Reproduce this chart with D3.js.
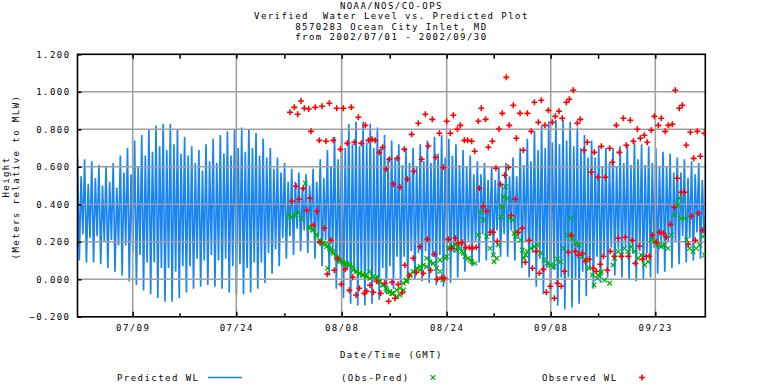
<!DOCTYPE html>
<html><head><meta charset="utf-8">
<script src="https://cdn.jsdelivr.net/npm/d3@7"></script>
<style>
body{margin:0;background:#fff;}
text{font-family:"DejaVu Sans Mono",monospace;font-size:9px;letter-spacing:1.45px;fill:#000;white-space:pre;}
</style></head><body>
<svg id="c" width="768" height="384"></svg>
<script>
// ---------- DATA ----------
const titleLines = ["NOAA/NOS/CO-OPS","Verified  Water Level vs. Predicted Plot","8570283 Ocean City Inlet, MD","from 2002/07/01 - 2002/09/30"];
const xTickDays = [8.0, 23.02, 38.29, 53.51, 68.59, 83.75];   // days since 2002-07-01 00:00 GMT
const xTickLabels = ["07/09","07/24","08/08","08/24","09/08","09/23"];
const xMinorDays = [14.80, 29.99, 45.25, 60.33, 75.46];
const yTicks = [-0.2, 0.0, 0.2, 0.4, 0.6, 0.8, 1.0, 1.2];
const predStepDays = 0.25875;   // one tidal extreme every 6.21 h
// predicted high waters (one per tidal cycle) and following low waters, metres
const predHigh = [0.65,0.55,0.64,0.51, 0.63,0.54,0.61,0.50, 0.60,0.52,0.62,0.49, 0.66,0.57,0.70,0.56,
 0.74,0.60,0.77,0.66, 0.80,0.68,0.82,0.71, 0.83,0.69,0.83,0.72, 0.80,0.67,0.76,0.66,
 0.71,0.62,0.69,0.58, 0.72,0.63,0.75,0.62, 0.77,0.67,0.79,0.66, 0.80,0.70,0.81,0.68,
 0.80,0.70,0.78,0.66, 0.75,0.65,0.70,0.59, 0.65,0.57,0.62,0.52, 0.59,0.52,0.57,0.49,
 0.56,0.50,0.59,0.52, 0.64,0.54,0.69,0.60, 0.76,0.64,0.80,0.70, 0.83,0.72,0.84,0.71,
 0.84,0.73,0.83,0.70, 0.81,0.70,0.77,0.65, 0.74,0.65,0.72,0.61, 0.70,0.62,0.70,0.60,
 0.72,0.63,0.74,0.62, 0.76,0.67,0.77,0.65, 0.75,0.66,0.72,0.61, 0.69,0.60,0.66,0.56,
 0.63,0.56,0.62,0.53, 0.60,0.53,0.60,0.51, 0.62,0.55,0.65,0.55, 0.70,0.61,0.75,0.63,
 0.79,0.69,0.82,0.70, 0.84,0.73,0.85,0.72, 0.85,0.74,0.84,0.71, 0.81,0.70,0.77,0.65,
 0.74,0.65,0.71,0.60, 0.70,0.62,0.70,0.60, 0.71,0.62,0.72,0.61, 0.73,0.64,0.72,0.61,
 0.71,0.62,0.70,0.60, 0.68,0.60,0.67,0.57, 0.65,0.57,0.64,0.54, 0.63,0.56,0.62,0.53];
const predLow = [0.10,0.24,0.09,0.22, 0.09,0.23,0.08,0.20, 0.06,0.21,0.04,0.18, 0.02,0.18,-0.01,0.14,
 -0.03,0.13,-0.06,0.09, -0.08,0.09,-0.10,0.06, -0.12,0.06,-0.12,0.04, -0.10,0.07,-0.07,0.07,
 -0.05,0.11,-0.04,0.10, -0.03,0.13,-0.04,0.10, -0.05,0.11,-0.07,0.07, -0.08,0.08,-0.08,0.06,
 -0.07,0.09,-0.05,0.09, -0.02,0.14,0.03,0.16, 0.07,0.22,0.11,0.23, 0.13,0.27,0.15,0.26,
 0.14,0.27,0.11,0.23, 0.07,0.21,0.02,0.15, -0.05,0.11,-0.10,0.05, -0.13,0.04,-0.14,0.01,
 -0.14,0.03,-0.13,0.02, -0.11,0.06,-0.08,0.07, -0.05,0.12,-0.03,0.12, -0.01,0.15,0.00,0.14,
 -0.01,0.15,-0.02,0.12, -0.03,0.13,-0.04,0.10, -0.02,0.14,0.01,0.15, 0.04,0.20,0.07,0.20,
 0.09,0.24,0.10,0.23, 0.12,0.26,0.12,0.24, 0.12,0.26,0.10,0.22, 0.06,0.20,0.01,0.14,
 -0.04,0.11,-0.08,0.06, -0.12,0.05,-0.14,0.01, -0.16,0.01,-0.15,0.00, -0.13,0.04,-0.09,0.06,
 -0.05,0.12,-0.02,0.13, 0.01,0.17,0.02,0.16, 0.01,0.17,0.00,0.14, -0.01,0.15,0.00,0.14,
 0.01,0.17,0.03,0.17, 0.04,0.20,0.06,0.20, 0.08,0.23,0.09,0.22, 0.10,0.25,0.11,0.24];
// observed water level samples [day, metres]
const observed = [
[30.80,0.891],[31.43,0.917],[31.91,0.880],[32.40,0.951],[32.88,0.912],[33.51,0.908],[34.47,0.917],[35.44,0.923],[36.50,0.939],[37.57,0.912],[38.53,0.912],[39.69,0.917],[40.71,0.864],[41.72,0.821],[33.85,0.789],[35.05,0.741],[36.02,0.736],[37.08,0.741],[38.10,0.693],[39.11,0.725],[40.13,0.731],[41.14,0.725],[42.16,0.741],[42.69,0.747],[43.17,0.741],[43.75,0.677],[44.23,0.704],[45.20,0.640],[44.72,0.587],[45.78,0.508],[31.67,0.496],[32.73,0.485],[31.09,0.416],[32.15,0.427],[33.70,0.432],[33.22,0.368],[34.71,0.363],[34.18,0.288],[35.78,0.272],[35.15,0.196],[36.74,0.208],[37.71,0.110],[36.21,0.027],[37.23,0.048],[38.82,0.053],[38.24,-0.027],[39.89,0.011],[39.40,-0.059],[40.85,-0.048],[40.37,-0.084],[41.58,-0.075],[41.91,-0.064],[42.40,-0.032],[42.88,-0.069],[43.36,-0.011],[43.94,-0.075],[44.52,-0.021],[45.10,-0.117],[45.59,-0.016],
[46.36,0.645],[46.75,0.491],[47.81,0.533],[48.78,0.576],[47.37,0.693],[49.89,0.640],[48.44,0.773],[49.40,0.832],[50.42,0.880],[51.43,0.853],[50.85,0.711],[51.92,0.651],[52.45,0.779],[53.03,0.597],[53.51,0.843],[54.48,0.875],[54.04,0.779],[55.06,0.800],[55.49,0.821],[56.07,0.741],[56.55,0.741],[57.13,0.736],[57.57,0.683],[58.10,0.843],[58.53,0.912],[59.16,0.853],[59.55,0.704],[60.13,0.736],[60.66,0.592],[58.24,0.485],[58.83,0.389],[59.26,0.363],[59.89,0.251],[60.27,0.251],[60.85,0.203],
[46.50,-0.027],[46.02,-0.101],[47.08,-0.071],[47.47,0.075],[48.10,0.020],[48.68,0.112],[49.11,0.037],[49.65,0.174],[50.13,0.032],[50.71,0.213],[51.19,0.048],[51.72,0.133],[52.16,0.000],[52.79,0.009],[53.19,0.005],[53.75,0.213],[54.24,0.165],[54.77,0.219],[55.20,0.192],[55.78,0.196],[56.27,0.169],[56.80,0.169],[57.24,0.165],[57.81,0.171],
[62.16,1.077],[61.58,0.885],[61.09,0.802],[62.59,0.821],[63.17,0.928],[64.14,0.885],[65.20,0.885],[63.61,0.752],[64.62,0.688],[65.78,0.789],[66.22,0.944],[66.80,0.837],[67.23,0.955],[67.76,0.821],[68.25,0.901],[68.83,0.837],[69.26,0.869],[69.79,0.896],[70.27,0.859],[70.86,0.944],[71.29,0.960],[71.87,1.008],[72.45,0.832],[72.88,0.853],[73.90,0.731],[73.42,0.688],[74.91,0.677],[75.93,0.709],[74.48,0.571],[75.45,0.544],
[62.45,0.597],[61.92,0.555],[61.29,0.507],[63.46,0.427],[62.88,0.340],[63.85,0.251],[64.48,0.272],[65.49,0.208],[66.51,0.149],[64.91,0.091],[65.93,0.059],[66.94,0.032],[67.53,0.053],[67.96,-0.069],[68.54,-0.037],[69.12,-0.101],[69.56,-0.021],[70.13,-0.037],[70.57,0.043],[71.15,0.144],[71.58,0.235],[72.16,0.149],[72.59,0.128],[73.17,0.139],[73.61,0.096],[74.19,0.107],[74.76,0.059],[75.20,0.043],[75.78,0.080],
[77.14,0.699],[77.52,0.624],[78.10,0.821],[78.54,0.677],[79.12,0.859],[79.55,0.715],[80.13,0.848],[80.57,0.736],[81.15,0.800],[81.58,0.752],[82.16,0.768],[82.59,0.731],[83.17,0.795],[83.61,0.869],[84.19,0.821],[84.62,0.859],[85.20,0.789],[85.64,0.821],[86.22,0.827],[86.65,1.008],[87.23,0.912],[87.67,0.928],[88.25,0.715],[88.83,0.784],[89.84,0.789],[90.86,0.779],[89.31,0.645],[90.28,0.656],
[76.51,0.544],[86.94,0.539],[87.52,0.464],[87.96,0.464],[86.51,0.384],[85.93,0.293],[88.98,0.336],[89.99,0.352],[90.57,0.261],
[76.22,0.123],[76.80,0.048],[77.23,0.149],[77.81,0.123],[78.39,0.219],[78.83,0.123],[79.41,0.224],[79.84,0.123],[80.42,0.208],[80.86,0.085],[81.44,0.176],[81.87,0.107],[82.45,0.123],[82.89,0.123],[83.32,0.235],[83.90,0.197],[84.34,0.251],[84.92,0.245],[85.35,0.224],[88.54,0.187],[89.56,0.208]];
// residual (observed - predicted) samples [day, metres]
const residual = [
[30.60,0.343],[30.95,0.331],[31.43,0.343],[31.91,0.357],[32.40,0.325],[33.03,0.512],[33.60,0.272],[34.09,0.263],[34.57,0.236],[35.05,0.210],[35.54,0.192],[36.02,0.188],[36.50,0.165],[36.98,0.148],[37.47,0.121],[37.95,0.103],[38.43,0.094],[38.92,0.082],[39.40,0.076],[39.88,0.068],[40.37,0.041],[40.85,0.032],[41.33,0.023],[41.81,0.023],[42.30,0.041],[42.78,0.014],[43.26,0.005],[43.75,-0.012],[44.23,-0.030],[44.71,-0.048],[45.20,-0.066],[45.58,-0.075],[36.26,0.059],
[33.70,0.281],[34.18,0.263],[34.67,0.236],[35.15,0.201],[35.63,0.192],[36.12,0.174],[36.60,0.156],[37.08,0.139],[37.57,0.112],[38.05,0.094],[38.53,0.085],[39.02,0.085],[39.50,0.076],[39.98,0.050],[40.47,0.041],[40.95,0.032],[41.43,0.023],[41.92,0.014],[42.40,0.005],[43.37,0.014],[43.85,-0.013],[44.33,-0.030],[44.82,-0.057],[45.30,-0.066],[45.78,-0.075],[46.27,-0.057],[46.75,-0.048],[47.22,-0.021],[47.71,-0.004],[48.20,0.023],[48.67,0.041],[49.64,0.050],[50.61,0.067],[51.57,0.085],[52.54,0.103],[53.51,0.121],[53.99,0.165],[54.96,0.156],[55.92,0.139],[56.89,0.103],
[45.54,-0.075],[46.26,-0.092],[46.75,-0.084],[47.23,-0.057],[47.71,-0.012],[48.20,0.023],[48.68,0.041],[49.16,0.059],[49.65,0.068],[50.13,0.076],[50.61,0.112],[51.09,0.094],[51.58,0.085],[52.06,0.059],[52.54,0.041],[52.93,-0.004],[53.27,0.112],[53.75,0.165],[54.24,0.174],[54.72,0.183],[55.20,0.174],[55.69,0.148],[56.17,0.121],[56.65,0.112],[57.13,0.094],[57.62,0.085],[58.10,0.236],[58.34,0.361],[58.82,0.316],[59.31,0.228],[59.79,0.165],[60.27,0.130],[60.76,0.112],
[60.37,0.094],[60.95,0.183],[61.34,0.334],[61.58,0.388],[62.06,0.494],[62.30,0.432],[61.50,0.387],[61.70,0.440],[62.69,0.325],[63.02,0.316],[63.27,0.245],[63.51,0.228],[63.75,0.254],[64.24,0.210],[64.48,0.156],[64.72,0.112],[64.96,0.130],[65.20,0.148],[65.69,0.165],[66.17,0.174],[66.65,0.183],[67.13,0.139],[67.62,0.103],[68.10,0.085],[68.58,0.076],[69.07,0.068],[69.55,0.108],[70.03,0.094],[70.52,0.165],[71.10,0.236],[71.48,0.325],[71.72,0.219],[72.21,0.192],[72.69,0.183],[73.17,0.121],[73.66,0.103],[74.14,0.059],[74.62,0.023],[74.87,-0.030],[75.35,0.005],[75.83,0.032],
[75.45,0.023],[75.93,0.041],[76.41,-0.004],[77.14,-0.021],[77.62,0.076],[77.87,0.112],[78.35,0.148],[78.83,0.130],[79.31,0.165],[79.80,0.148],[80.28,0.174],[80.76,0.148],[81.24,0.112],[81.73,0.130],[82.21,0.076],[82.69,0.094],[83.17,0.210],[83.66,0.201],[84.14,0.183],[84.62,0.174],[85.11,0.183],[85.59,0.165],[86.07,0.236],[86.56,0.343],[87.04,0.396],[87.28,0.432],[87.52,0.325],[88.01,0.325],[88.25,0.210],[88.73,0.165],[89.22,0.148],[89.70,0.165],[90.18,0.183],[90.67,0.228],[90.91,0.130]];
const legendLabels = ["Predicted WL","(Obs-Pred)","Observed WL"];
const colors = {pred:"#1a85f2", res:"#00b000", obs:"#ff0000", grid:"#a0a0a0"};

// ---------- CHART ----------
const svg = d3.select("#c");
const L = 77.5, R = 705.3, T = 54.3, B = 316.8;
const x = d3.scaleLinear().domain([0, 91]).range([L, R]);
const y = d3.scaleLinear().domain([-0.2, 1.2]).range([B, T]);

svg.append("defs").append("clipPath").attr("id","clip")
  .append("rect").attr("x",L).attr("y",T).attr("width",R-L).attr("height",B-T);

// predicted series: alternating high / low extremes
const pred = [];
predHigh.forEach((h,i)=>{ pred.push([2*i*predStepDays, h]); pred.push([(2*i+1)*predStepDays, predLow[i]]); });
svg.append("path").datum(pred).attr("clip-path","url(#clip)")
  .attr("fill","none").attr("stroke",colors.pred).attr("stroke-width",1.7)
  .attr("d", d3.line().x(d=>x(d[0])).y(d=>y(d[1])));

// grid
const g = svg.append("g");
g.selectAll(".hg").data(yTicks.filter(v=>v>-0.2 && v<1.2)).join("line")
  .attr("x1",L).attr("x2",R).attr("y1",d=>y(d)).attr("y2",d=>y(d))
  .attr("stroke",colors.grid).attr("stroke-width",1.6);
g.selectAll(".vg").data(xTickDays).join("line")
  .attr("y1",T).attr("y2",B).attr("x1",d=>x(d)).attr("x2",d=>x(d))
  .attr("stroke",colors.grid).attr("stroke-width",1.6);

// axes
const yAxis = d3.axisLeft(y).tickValues(yTicks).tickFormat(d3.format(".3f")).tickSize(-4).tickPadding(7);
const ya = svg.append("g").attr("transform",`translate(${L},0)`).call(yAxis);
ya.select(".domain").remove();
ya.selectAll("text").attr("dy","0.35em");

const xAxis = d3.axisBottom(x).tickValues(xTickDays).tickFormat((d,i)=>xTickLabels[i]).tickSize(-5).tickPadding(8);
const xa = svg.append("g").attr("transform",`translate(0,${B})`).call(xAxis);
xa.select(".domain").remove();
svg.append("g").attr("transform",`translate(0,${B})`)
  .call(d3.axisBottom(x).tickValues(xMinorDays).tickFormat("").tickSize(-3.5)).select(".domain").remove();
const ta = svg.append("g").attr("transform",`translate(0,${T})`)
  .call(d3.axisTop(x).tickValues(xTickDays.concat(xMinorDays)).tickFormat("").tickSize(-4.5));
ta.select(".domain").remove();
svg.selectAll(".tick line").attr("stroke","#000").attr("stroke-width",1.5);
svg.selectAll(".tick text").attr("font-family",null).attr("font-size",null).attr("fill","#000");

svg.append("rect").attr("x",L).attr("y",T).attr("width",R-L).attr("height",B-T)
  .attr("fill","none").attr("stroke","#000").attr("stroke-width",1.6);

// residual markers (x) and observed markers (+)
const cross = "M-2.3,-2.3L2.3,2.3M-2.3,2.3L2.3,-2.3";
const plus = "M-3,0H3M0,-3V3";
svg.append("g").attr("clip-path","url(#clip)").selectAll("path").data(residual).join("path")
  .attr("transform",d=>`translate(${x(d[0])},${y(d[1])})`).attr("d",cross)
  .attr("stroke",colors.res).attr("stroke-width",1.2).attr("fill","none");
svg.append("g").attr("clip-path","url(#clip)").selectAll("path").data(observed).join("path")
  .attr("transform",d=>`translate(${x(d[0])},${y(d[1])})`).attr("d",plus)
  .attr("stroke",colors.obs).attr("stroke-width",1.6).attr("fill","none");

// titles
svg.selectAll(".title").data(titleLines).join("text")
  .attr("x",(L+R)/2).attr("y",(d,i)=>9+i*10.4).attr("text-anchor","middle").text(d=>d);
svg.append("text").attr("x",(L+R)/2).attr("y",358).attr("text-anchor","middle").text("Date/Time (GMT)");
svg.append("text").attr("transform","translate(9,177) rotate(-90)").attr("text-anchor","middle").text("Height");
svg.append("text").attr("transform","translate(18.5,177) rotate(-90)").attr("text-anchor","middle").text("(Meters relative to MLW)");

// legend
const ly = 381;
svg.append("text").attr("x",117).attr("y",ly).text(legendLabels[0]);
svg.append("line").attr("x1",208).attr("x2",242).attr("y1",ly-3.5).attr("y2",ly-3.5).attr("stroke",colors.pred).attr("stroke-width",1.5);
svg.append("text").attr("x",341).attr("y",ly).text(legendLabels[1]);
svg.append("path").attr("transform",`translate(433,${ly-3.5})`).attr("d",cross).attr("stroke",colors.res).attr("stroke-width",1.2);
svg.append("text").attr("x",542).attr("y",ly).text(legendLabels[2]);
svg.append("path").attr("transform",`translate(642,${ly-3.5})`).attr("d",plus).attr("stroke",colors.obs).attr("stroke-width",1.6);
</script></body></html>
